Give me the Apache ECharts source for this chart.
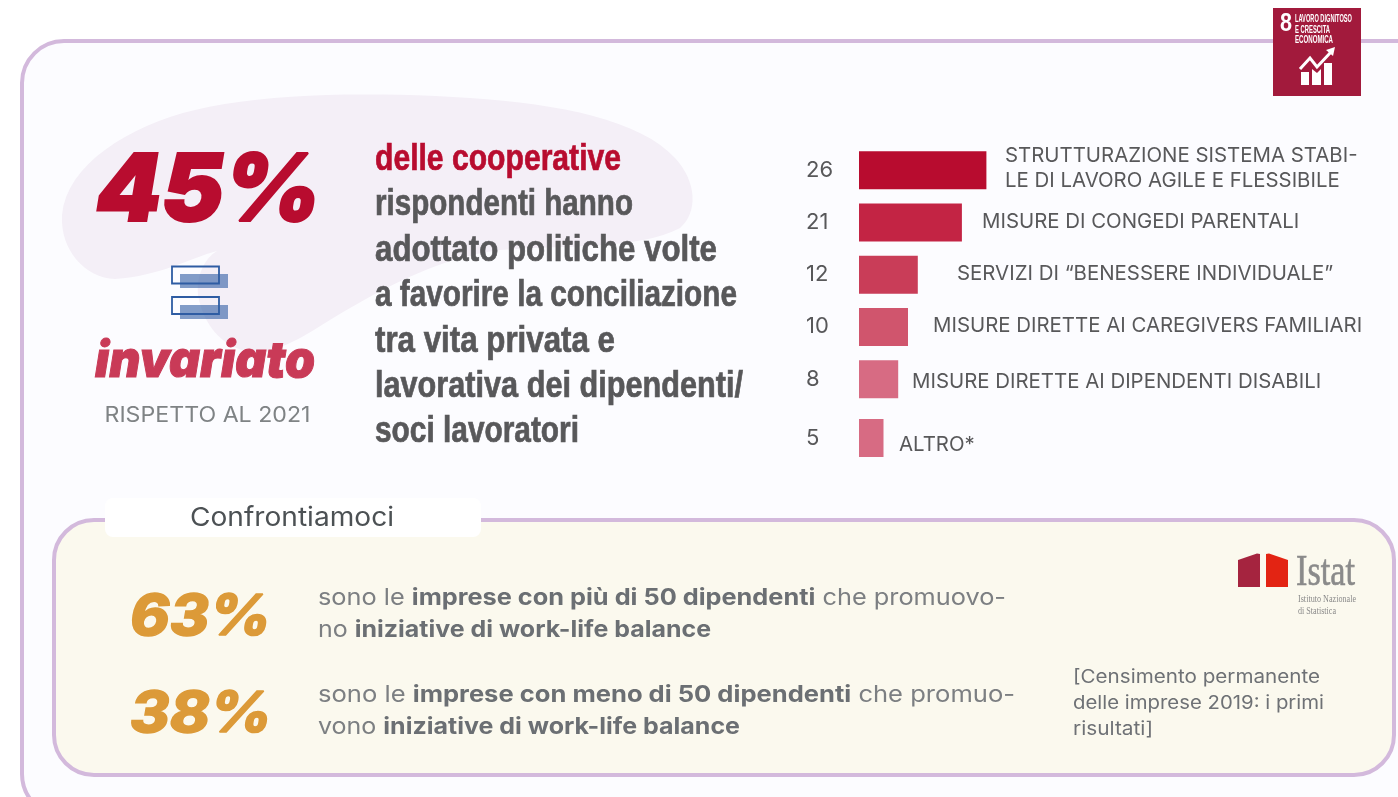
<!DOCTYPE html>
<html><head><meta charset="utf-8">
<style>html,body{margin:0;padding:0;background:#fff;overflow:hidden}#c{width:1398px;height:797px}</style>
<script src="https://cdn.jsdelivr.net/npm/echarts@6/dist/echarts.min.js"></script>
</head><body><div id="c"></div>
<script>
const categories = ['STRUTTURAZIONE SISTEMA STABI-\nLE DI LAVORO AGILE E FLESSIBILE','MISURE DI CONGEDI PARENTALI','SERVIZI DI “BENESSERE INDIVIDUALE”','MISURE DIRETTE AI CAREGIVERS FAMILIARI','MISURE DIRETTE AI DIPENDENTI DISABILI','ALTRO*'];
const values = [26,21,12,10,8,5];
const barColors = ['#b80c2f','#c32444','#c93d58','#d0556d','#d76b83','#d76b83'];
const labelSpots = [[146,17],[123,18],[98,18.5],[74,18],[53,22],[40,26]];
const titleLines = ['delle cooperative','rispondenti hanno','adottato politiche volte','a favorire la conciliazione','tra vita privata e','lavorativa dei dipendenti/','soci lavoratori'];
const titleWidths = [246,258,342,362,240,368,204];

const SANS='Inter, "Open Sans", sans-serif';
const NARROW='"Liberation Sans Narrow","Liberation Sans",sans-serif';
const SERIF='"Liberation Serif", serif';
const ctx=document.createElement('canvas').getContext('2d');
function w(text,font){ctx.font=font;return ctx.measureText(text).width;}
function fit(text,x,y,width,o){
  const font=`${o.style||'normal'} ${o.weight||400} ${o.size}px ${o.family||SANS}`;
  const style={text,fill:o.fill,font,textAlign:'left',textVerticalAlign:'middle'};
  if(o.heavy){style.stroke=o.fill;style.lineWidth=o.heavy;}
  return {type:'text',x,y,scaleX:width/w(text,font),z:o.z||5,style};
}
function rich(segs,x,y,width,size){
  const a=`400 ${size}px ${SANS}`,b=`700 ${size}px ${SANS}`;
  let tot=0,t='';
  segs.forEach(s=>{tot+=w(s[0],s[1]?b:a);t+=`{${s[1]?'b':'a'}|${s[0]}}`;});
  return {type:'text',x,y,scaleX:width/tot,z:5,style:{text:t,textVerticalAlign:'middle',textAlign:'left',
    rich:{a:{font:a,fill:'#7c7f82'},b:{font:b,fill:'#6b6f73'}}}};
}
function blob(start,curves){
  const pts=[start];let p=start;
  curves.forEach(c=>{
    for(let k=1;k<=16;k++){const t=k/16,u=1-t;
      pts.push([u*u*u*p[0]+3*u*u*t*c[0]+3*u*t*t*c[2]+t*t*t*c[4],u*u*u*p[1]+3*u*u*t*c[1]+3*u*t*t*c[3]+t*t*t*c[5]]);}
    p=[c[4],c[5]];
  });
  return pts;
}
const blobPts=blob([62,215],[[66,165,130,125,195,110],[270,92,380,92,470,98],[560,104,640,120,675,158],[697,182,698,212,680,228],[640,250,560,245,500,250],[440,258,390,285,350,308],[320,325,295,345,265,352],[235,356,205,335,198,295],[196,275,205,258,217,251],[190,258,160,276,115,279],[85,278,60,250,62,215]]);
const gfx=[
  {type:'rect',z:0,shape:{x:22,y:41,width:1420,height:775,r:42},style:{fill:'#fcfcff',stroke:'#d3b9dc',lineWidth:4}},
  {type:'polygon',z:1,shape:{points:blobPts},style:{fill:'#f4eff7'}},
  {type:'rect',z:2,shape:{x:180,y:274,width:48,height:14},style:{fill:'rgba(46,92,163,0.6)'}},
  {type:'rect',z:2,shape:{x:180,y:305,width:48,height:14},style:{fill:'rgba(46,92,163,0.6)'}},
  {type:'rect',z:3,shape:{x:172,y:266.5,width:47,height:17},style:{fill:'none',stroke:'#2e5ca3',lineWidth:1.8}},
  {type:'rect',z:3,shape:{x:172,y:297,width:47,height:17},style:{fill:'none',stroke:'#2e5ca3',lineWidth:1.8}},
  fit('45%',96,193,225,{style:'italic',weight:900,size:94,fill:'#b80c2f',heavy:2}),
  fit('invariato',95,362,220,{style:'italic',weight:900,size:50,fill:'#c93a57',heavy:1}),
  fit('RISPETTO AL 2021',104.5,415.5,206,{size:21,fill:'#7f8385'}),
  // lower panel
  {type:'rect',z:2,shape:{x:54,y:520,width:1340,height:255,r:40},style:{fill:'#fbf9ee',stroke:'#d3b9dc',lineWidth:4}},
  {type:'rect',z:3,shape:{x:105,y:498,width:376,height:39,r:8},style:{fill:'#ffffff'}},
  fit('Confrontiamoci',190,518,204,{size:26,fill:'#4c5154'}),
  fit('63%',130,618,141,{style:'italic',weight:800,size:56,fill:'#dc9a38',heavy:1.5}),
  fit('38%',130,715,142,{style:'italic',weight:800,size:56,fill:'#dc9a38',heavy:1.5}),
  rich([['sono le ',0],['imprese con più di 50 dipendenti',1],[' che promuovo-',0]],318,598.5,688,23),
  rich([['no ',0],['iniziative di work-life balance',1]],318,630.5,393,23),
  rich([['sono le ',0],['imprese con meno di 50 dipendenti',1],[' che promuo-',0]],318,695.5,697,23),
  rich([['vono ',0],['iniziative di work-life balance',1]],318,727.5,422,23),
  fit('[Censimento permanente',1073,677,247,{size:18.5,fill:'#6e7175'}),
  fit('delle imprese 2019: i primi',1073,703,251,{size:18.5,fill:'#6e7175'}),
  fit('risultati]',1073,729,80,{size:18.5,fill:'#6e7175'}),
  // Istat logo
  {type:'polygon',z:4,shape:{points:[[1238,560],[1257,553.5],[1260,554],[1260,587],[1238,587]]},style:{fill:'#a5243f'}},
  {type:'polygon',z:4,shape:{points:[[1266,554],[1269,553.5],[1288,560],[1288,587],[1266,587]]},style:{fill:'#e32413'}},
  fit('Istat',1296,573,59,{family:SERIF,size:44,fill:'#8a8a8a',heavy:0.6}),
  fit('Istituto Nazionale',1298,599,58,{family:SERIF,size:10,fill:'#8a8a8a'}),
  fit('di Statistica',1298,611,38,{family:SERIF,size:10,fill:'#8a8a8a'}),
  // SDG badge
  {type:'rect',z:6,shape:{x:1273,y:8,width:88,height:88},style:{fill:'#a21a3c'}},
  fit('8',1280,24,12,{weight:700,family:NARROW,size:26,fill:'#fff',z:7}),
  fit('LAVORO DIGNITOSO',1295,19,57,{weight:700,family:NARROW,size:10,fill:'#fff',z:7}),
  fit('E CRESCITA',1295,30,35,{weight:700,family:NARROW,size:10,fill:'#fff',z:7}),
  fit('ECONOMICA',1295,40,38,{weight:700,family:NARROW,size:10,fill:'#fff',z:7}),
  {type:'rect',z:7,shape:{x:1301,y:72,width:8,height:13},style:{fill:'#fff'}},
  {type:'polygon',z:7,shape:{points:[[1312,69],[1317,73],[1321,69],[1321,85],[1312,85]]},style:{fill:'#fff'}},
  {type:'rect',z:7,shape:{x:1324,y:63,width:8,height:22},style:{fill:'#fff'}},
  {type:'polyline',z:7,shape:{points:[[1300,69],[1310,58],[1317,67],[1331,52]]},style:{stroke:'#fff',lineWidth:3,fill:'none'}},
  {type:'polygon',z:7,shape:{points:[[1335,47],[1333,56],[1326,50]]},style:{fill:'#fff'}}
];
titleLines.forEach((t,i)=>gfx.push(fit(t,375,160+i*45.4,titleWidths[i],{weight:700,family:NARROW,size:36,fill:i?'#58585a':'#b80c2f',heavy:0.7})));

function barData(from,to){
  return values.slice(from,to).map((v,i)=>({value:v,itemStyle:{color:barColors[from+i]},
    label:{position:labelSpots[from+i]}}));
}
const barLabel={show:true,formatter:'{b}',align:'left',verticalAlign:'middle',color:'#58585a',fontFamily:SANS,fontSize:20.4,lineHeight:25};
function axY(idx,from,to){return {type:'category',gridIndex:idx,inverse:true,data:categories.slice(from,to),
  axisLine:{show:false},axisTick:{show:false},
  axisLabel:{interval:0,align:'left',margin:53,color:'#58585a',fontFamily:SANS,fontSize:22,formatter:(v,i)=>String(values[from+i])}};}
function axX(idx){return {type:'value',gridIndex:idx,min:0,max:30,show:false};}
const chart=echarts.init(document.getElementById('c'),null,{renderer:'canvas'});
chart.setOption({
  animation:false,
  grid:[{left:859,top:144,width:147,height:261.25},{left:859,top:412,width:147,height:52}],
  xAxis:[axX(0),axX(1)],
  yAxis:[axY(0,0,5),axY(1,5,6)],
  graphic:{elements:gfx},
  series:[
    {type:'bar',xAxisIndex:0,yAxisIndex:0,barWidth:38,z:10,label:barLabel,data:barData(0,5)},
    {type:'bar',xAxisIndex:1,yAxisIndex:1,barWidth:38,z:10,label:barLabel,data:barData(5,6)}
  ]
});
</script></body></html>
